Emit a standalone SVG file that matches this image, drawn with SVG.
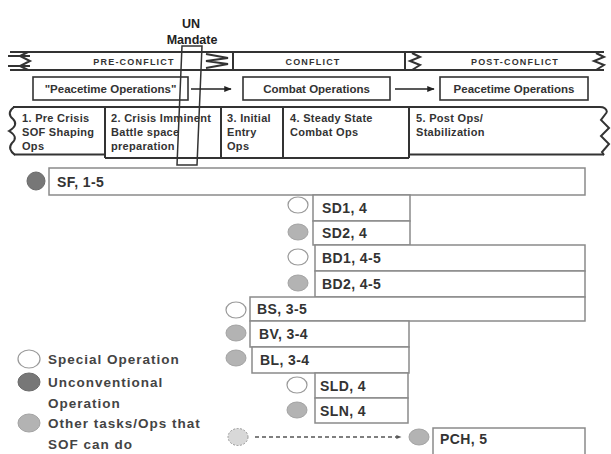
<svg xmlns="http://www.w3.org/2000/svg" width="611" height="454" viewBox="0 0 611 454">
<style>
.t{font-family:"Liberation Sans",Arial,sans-serif;font-weight:bold;fill:#333}
.hd{font-size:9px;letter-spacing:1.2px;text-anchor:middle}
.ph{font-size:11px;letter-spacing:0.3px}
.op{font-size:11.5px;text-anchor:middle}
.un{font-size:12.5px;text-anchor:middle;fill:#222}
.lbl{font-size:14px;letter-spacing:0.4px}
.lg{font-size:13.5px;fill:#444;letter-spacing:1px}
.frame{fill:none;stroke:#333;stroke-width:2}
.box{fill:#fff;stroke:#333;stroke-width:1.6}
.bar{fill:#fff;stroke:#8a8a8a;stroke-width:1.5}
.cw{fill:#fff;stroke:#999;stroke-width:1.2}
.cg{fill:#b3b3b3;stroke:#a3a3a3;stroke-width:1}
.cd{fill:#777;stroke:#6a6a6a;stroke-width:1}
.conn{fill:none;stroke:#222;stroke-width:1.5}
</style>
<defs>
<marker id="ah" viewBox="0 0 10 10" refX="9" refY="5" markerWidth="5" markerHeight="5" orient="auto">
<path d="M0,1 L10,5 L0,9 z" fill="#222"/>
</marker>
<marker id="ah2" viewBox="0 0 10 10" refX="9" refY="5" markerWidth="4" markerHeight="4" orient="auto">
<path d="M0,1 L10,5 L0,9 z" fill="#555"/>
</marker>
</defs>
<rect width="611" height="454" fill="#fff"/>

<!-- Phase band -->
<g id="band">
<line class="frame" x1="10" y1="52" x2="604" y2="52"/>
<line class="frame" x1="10" y1="70" x2="604" y2="70"/>
<line class="frame" x1="233" y1="52" x2="233" y2="70"/>
<line class="frame" x1="405" y1="52" x2="405" y2="70"/>
<polyline class="frame" points="28,52 20,56 30,61 20,66 28,70"/>
<polyline class="frame" points="8,56 30,56"/>
<polyline class="frame" points="8,66 30,66"/>
<polyline class="frame" points="206,54 228,58 206,61 228,64 206,68"/>
<polyline class="frame" points="412,53 420,57 410,61 420,65 412,70"/>
<polyline class="frame" points="596,53 604,57 594,61 604,65 596,70"/>
<text class="t hd" x="134" y="64.5">PRE-CONFLICT</text>
<text class="t hd" x="313" y="64.5">CONFLICT</text>
<text class="t hd" x="515" y="64.5">POST-CONFLICT</text>
</g>

<g id="un-mandate">
<text class="t un" x="191" y="28">UN</text>
<text class="t un" x="192" y="44">Mandate</text>
</g>

<g id="peacetime-ops">
<rect class="box" x="33" y="77" width="155" height="23"/>
<text class="t op" x="110.5" y="93">"Peacetime Operations"</text>
</g>
<g id="combat-ops">
<rect class="box" x="243" y="77" width="147" height="23"/>
<text class="t op" x="316.5" y="93">Combat Operations</text>
</g>
<g id="post-peacetime-ops">
<rect class="box" x="440" y="77" width="148" height="23"/>
<text class="t op" x="514" y="93">Peacetime Operations</text>
</g>

<!-- Operational phases -->
<g id="phases">
<path class="frame" d="M13,107 L600,107 Q606,107 607,112"/>
<polyline class="frame" points="607,112 601,120 609,128 601,136 609,144 602,152 604,155"/>
<path class="frame" d="M14,107 Q6,113 13,119 Q19,125 9,131 Q19,137 12,143 Q7,149 15,155"/>
<line class="frame" x1="14" y1="154.5" x2="105" y2="154.5"/>
<line class="frame" x1="105" y1="158" x2="409" y2="158"/>
<line class="frame" x1="409" y1="154.5" x2="604" y2="154.5"/>
<line class="frame" x1="105" y1="107" x2="105" y2="158"/>
<line class="frame" x1="221" y1="107" x2="221" y2="158"/>
<line class="frame" x1="283" y1="107" x2="283" y2="158"/>
<line class="frame" x1="409" y1="107" x2="409" y2="158"/>
<text class="t ph" x="22" y="122">1. Pre Crisis</text>
<text class="t ph" x="22" y="136">SOF Shaping</text>
<text class="t ph" x="22" y="150">Ops</text>
<text class="t ph" x="111" y="122">2. Crisis Imminent</text>
<text class="t ph" x="111" y="136">Battle space</text>
<text class="t ph" x="111" y="150">preparation</text>
<text class="t ph" x="227" y="122">3. Initial</text>
<text class="t ph" x="227" y="136">Entry</text>
<text class="t ph" x="227" y="150">Ops</text>
<text class="t ph" x="290" y="122">4. Steady State</text>
<text class="t ph" x="290" y="136">Combat Ops</text>
<text class="t ph" x="416" y="122">5. Post Ops/</text>
<text class="t ph" x="416" y="136">Stabilization</text>
</g>

<polygon id="un-window" points="182,46 202,46 197,165 177,165" fill="none" stroke="#333" stroke-width="1.5"/>

<!-- Task bars -->
<g id="sf"><circle class="cd" cx="36" cy="181" r="9"/><rect class="bar" x="49" y="168" width="536" height="27"/><text class="t lbl" x="57" y="186.5">SF, 1-5</text></g>
<g id="sd1"><ellipse class="cw" cx="298" cy="205" rx="10" ry="8"/><rect class="bar" x="313" y="195" width="97" height="26"/><text class="t lbl" x="322" y="213">SD1, 4</text></g>
<g id="sd2"><ellipse class="cg" cx="298" cy="232" rx="10" ry="8"/><rect class="bar" x="313" y="221" width="97" height="24"/><text class="t lbl" x="322" y="238">SD2, 4</text></g>
<g id="bd1"><ellipse class="cw" cx="298" cy="257" rx="10" ry="8"/><rect class="bar" x="315" y="245" width="270" height="26"/><text class="t lbl" x="322" y="263">BD1, 4-5</text></g>
<g id="bd2"><ellipse class="cg" cx="298" cy="283" rx="10" ry="8"/><rect class="bar" x="315" y="271" width="270" height="26"/><text class="t lbl" x="322" y="289">BD2, 4-5</text></g>
<g id="bs"><ellipse class="cw" cx="236" cy="310" rx="10" ry="8"/><rect class="bar" x="250" y="297" width="335" height="24"/><text class="t lbl" x="257" y="314">BS, 3-5</text></g>
<g id="bv"><ellipse class="cg" cx="236" cy="333" rx="10" ry="8"/><rect class="bar" x="250" y="321" width="159" height="26"/><text class="t lbl" x="259" y="339">BV, 3-4</text></g>
<g id="bl"><ellipse class="cg" cx="236" cy="358" rx="10" ry="8"/><rect class="bar" x="252" y="347" width="157" height="26"/><text class="t lbl" x="260" y="365">BL, 3-4</text></g>
<g id="sld"><ellipse class="cw" cx="297" cy="385" rx="10" ry="8"/><rect class="bar" x="315" y="373" width="93" height="25"/><text class="t lbl" x="320" y="391">SLD, 4</text></g>
<g id="sln"><ellipse class="cg" cx="297" cy="410" rx="10" ry="8"/><rect class="bar" x="315" y="398" width="93" height="25"/><text class="t lbl" x="320" y="416">SLN, 4</text></g>
<g id="pch-source"><ellipse cx="238" cy="437" rx="10" ry="8.5" fill="#d8d8d8" stroke="#999" stroke-width="1" stroke-dasharray="2,1.5"/></g>
<g id="pch"><ellipse class="cg" cx="419" cy="437" rx="10" ry="8"/><path class="bar" d="M433,456 L433,428 L585,428 L585,456"/><text class="t lbl" x="440" y="444">PCH, 5</text></g>

<!-- Connectors -->
<g id="connectors">
<line class="conn" x1="191" y1="89" x2="231" y2="89" marker-end="url(#ah)"/>
<line class="conn" x1="395" y1="89" x2="434" y2="89" marker-end="url(#ah)"/>
<line x1="255" y1="437" x2="401" y2="437" stroke="#555" stroke-width="1.3" stroke-dasharray="4,3" marker-end="url(#ah2)"/>
</g>

<!-- Legend -->
<g id="legend">
<ellipse class="cw" cx="29" cy="359" rx="11" ry="9"/>
<text class="t lg" x="48" y="363.5">Special Operation</text>
<ellipse class="cd" cx="29" cy="382" rx="11" ry="9"/>
<text class="t lg" x="48" y="387">Unconventional</text>
<text class="t lg" x="48" y="408">Operation</text>
<ellipse class="cg" cx="29" cy="423" rx="11" ry="9"/>
<text class="t lg" x="48" y="428">Other tasks/Ops that</text>
<text class="t lg" x="48" y="449">SOF can do</text>
</g>
</svg>
